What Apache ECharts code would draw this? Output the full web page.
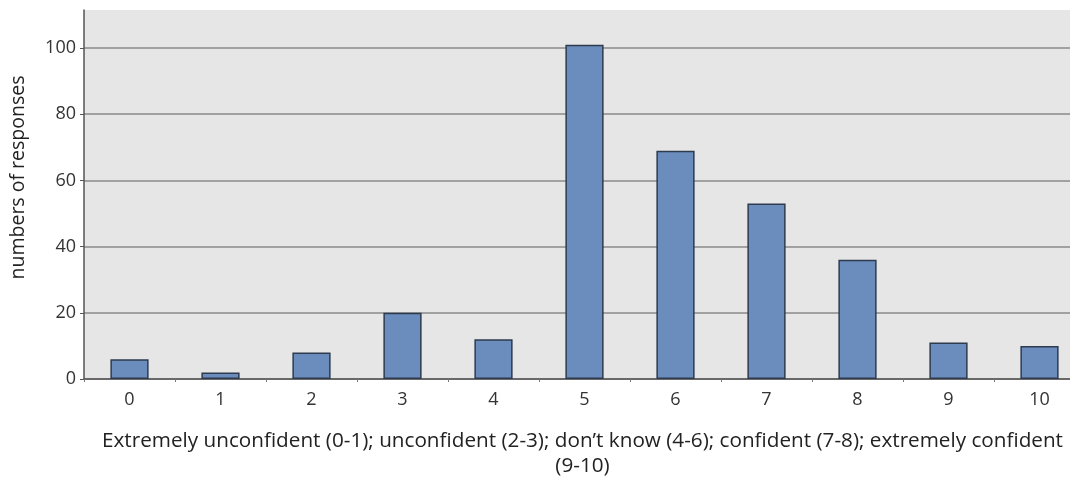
<!DOCTYPE html>
<html><head><meta charset="utf-8">
<script src="https://cdn.jsdelivr.net/npm/echarts@6/dist/echarts.min.js"></script>
<style>html,body{margin:0;padding:0;background:#fff}#c{width:1070px;height:479px;overflow:hidden}</style>
</head><body><div id="c"></div>
<script>
const categories = ['0','1','2','3','4','5','6','7','8','9','10'];
const responses = [6, 2, 8, 20, 12, 101, 69, 53, 36, 11, 10];
const yTicks = [0, 20, 40, 60, 80, 100];
const xTitle = 'Extremely unconfident (0-1); unconfident (2-3); don\u2019t know (4-6); confident (7-8); extremely confident\n(9-10)';
const yTitle = 'numbers of responses';

const font = 'Open Sans';
const chart = echarts.init(document.getElementById('c'), null, {renderer:'canvas'});
chart.setOption({
  animation: false,
  backgroundColor: '#ffffff',
  grid: {left: 84, width: 1001, top: 10, bottom: 100, show: true, backgroundColor: '#e6e6e6', borderWidth: 0,
    containLabel: false, outerBoundsMode: 'none'},
  xAxis: {
    type: 'category', data: categories,
    axisLine: {lineStyle: {color: '#555', width: 1.5}},
    axisTick: {show: true, alignWithLabel: false, length: 3, lineStyle: {color: '#777'}},
    axisLabel: {color: '#333', fontFamily: font, fontSize: 18, margin: 12},
    name: xTitle, nameLocation: 'middle', nameGap: 50,
    nameTextStyle: {color: '#222', fontFamily: font, fontSize: 20.7, lineHeight: 25, padding: [0, 4, 0, 0]}
  },
  yAxis: {
    type: 'value', min: 0, max: 111.5, interval: 20,
    axisLine: {show: true, lineStyle: {color: '#555', width: 1.5}},
    axisTick: {show: true, length: 4, lineStyle: {color: '#555'}},
    axisLabel: {color: '#333', fontFamily: font, fontSize: 18, margin: 8, showMaxLabel: false,
      formatter: v => yTicks.includes(v) ? String(v) : ''},
    splitLine: {show: true, showMaxLine: false, lineStyle: {color: '#8a8a8a', width: 1.5}},
    name: yTitle, nameLocation: 'middle', nameGap: 56, nameRotate: 90,
    nameTextStyle: {color: '#222', fontFamily: font, fontSize: 19.5, padding: [0, 0, 0, 34]}
  },
  series: [{
    type: 'bar', data: responses, barWidth: '42%',
    itemStyle: {color: '#6a8dbd', borderColor: '#2e3b4e', borderWidth: 1.5}
  }]
});
</script></body></html>
